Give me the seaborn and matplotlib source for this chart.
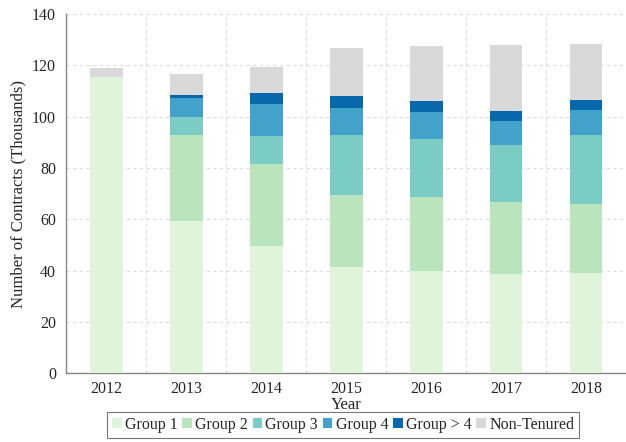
import numpy as np
import pandas as pd
import matplotlib
matplotlib.use('Agg')
import matplotlib.pyplot as plt
from matplotlib.patches import Patch
from matplotlib.ticker import FixedLocator
import seaborn as sns

# Data (thousands of contracts)
years = ['2012', '2013', '2014', '2015', '2016', '2017', '2018']
group1 = [115.5, 59.4, 49.4, 41.3, 39.9, 38.7, 39.0]
group2 = [0.0, 33.3, 32.1, 28.2, 28.6, 28.0, 27.0]
group3 = [0.0, 7.1, 10.9, 23.3, 22.8, 22.3, 26.7]
group4 = [0.0, 7.6, 12.4, 10.7, 10.5, 9.4, 10.0]
group_gt4 = [0.0, 1.0, 4.4, 4.4, 4.3, 4.0, 4.0]
non_tenured = [3.3, 8.2, 10.1, 19.0, 21.6, 25.5, 21.6]

series_names = ['Group 1', 'Group 2', 'Group 3', 'Group 4', 'Group > 4', 'Non-Tenured']
COLORS = ['#e0f3db', '#bae4bc', '#7bccc4', '#43a2ca', '#0868ac', '#d9d9d9']

df = pd.DataFrame({'Year': years, 'Group 1': group1, 'Group 2': group2,
                   'Group 3': group3, 'Group 4': group4, 'Group > 4': group_gt4,
                   'Non-Tenured': non_tenured})
cum = df[series_names].cumsum(axis=1)
cum['Year'] = df['Year']

sns.set_style('white')
plt.rcParams['font.family'] = ['Liberation Serif', 'DejaVu Serif']

fig = plt.figure(figsize=(6.26, 4.42), dpi=100)
ax = fig.add_axes([0.106, 0.156, 0.894, 0.812])

# stacked bars: tallest cumulative first, then overlay the lower ones
for name, color in zip(reversed(series_names), reversed(COLORS)):
    sns.barplot(data=cum, x='Year', y=name, color=color, width=0.41,
                saturation=1, linewidth=0, ax=ax, zorder=3)

ax.set_ylim(0, 140)
ax.set_xlim(-0.5, 6.5)
ax.set_yticks(range(0, 141, 20))
ax.set_ylabel('Number of Contracts (Thousands)', fontsize=12)
ax.set_xlabel('Year', fontsize=12, labelpad=0)

# ticks at category boundaries, labels centred on bars
ax.xaxis.set_minor_locator(FixedLocator(np.arange(0.5, 6.5, 1)))
ax.tick_params(axis='x', which='major', length=0, labelsize=11.5, pad=6)
ax.tick_params(axis='x', which='minor', length=4, width=0.8, color='#888888')
ax.tick_params(axis='y', length=4, width=0.8, color='#888888', labelsize=11.5)

ax.grid(False)
ax.yaxis.grid(True, linestyle=(0, (3, 3)), color='#dddddd', linewidth=0.8, zorder=0)
ax.xaxis.grid(True, which='minor', linestyle=(0, (3, 3)), color='#dddddd', linewidth=0.8, zorder=0)
ax.set_axisbelow(True)

for side in ['top', 'right']:
    ax.spines[side].set_visible(False)
for side in ['left', 'bottom']:
    ax.spines[side].set_color('#888888')
    ax.spines[side].set_linewidth(1.0)

handles = [Patch(facecolor=c, edgecolor='none', label=n) for n, c in zip(series_names, COLORS)]
leg = fig.legend(handles=handles, loc='upper center', bbox_to_anchor=(0.548, 0.068),
                 ncol=6, fontsize=11.5, frameon=True, fancybox=False,
                 handlelength=0.6, handleheight=0.6, handletextpad=0.2,
                 columnspacing=0.3, borderpad=0.3, borderaxespad=0)
leg.get_frame().set_edgecolor('#555555')
leg.get_frame().set_linewidth(0.8)

fig.savefig('out.png', dpi=100)
